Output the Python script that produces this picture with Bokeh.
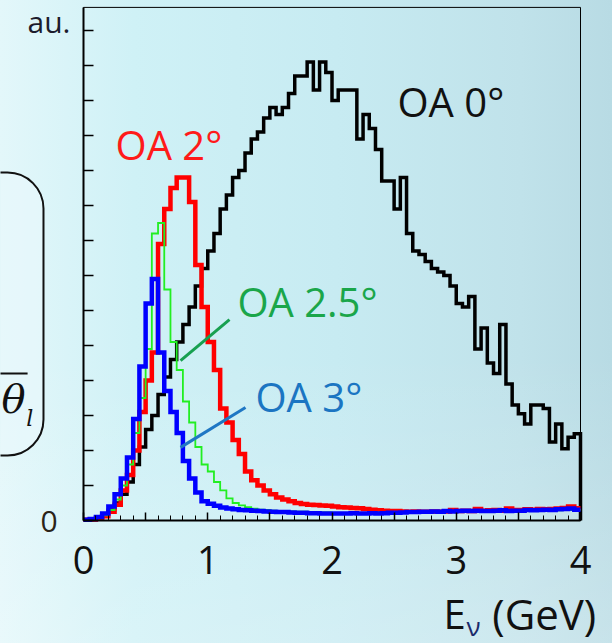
from bokeh.plotting import figure
from bokeh.models import FixedTicker, Label, BoxAnnotation, Range1d
from bokeh.embed import file_html
from bokeh.resources import INLINE

# ---- data (histograms, 0.05 GeV bins from 0 to 4 GeV, arbitrary units) ----
bin_width = 0.05
n_bins = 80
edges = [round(i * bin_width, 3) for i in range(n_bins + 1)]

oa0 = [0.02, 0.03, 0.07, 0.15, 0.3, 0.5, 0.75, 1.1, 1.6, 2.1,
       2.6, 3.0, 3.6, 4.1, 4.6, 5.1, 5.6, 6.1, 6.7, 7.2,
       7.7, 8.2, 8.9, 9.3, 9.8, 10.0, 10.5, 10.9, 11.1, 11.5,
       11.8, 11.6, 11.8, 12.2, 12.7, 12.7, 13.1, 12.3, 13.1, 12.8,
       12.0, 12.3, 12.3, 12.3, 10.9, 11.6, 11.2, 10.6, 9.7, 9.7,
       8.9, 9.8, 8.2, 7.7, 7.6, 7.4, 7.2, 7.1, 7.0, 6.7,
       6.2, 6.1, 6.4, 4.9, 5.5, 4.5, 4.2, 5.6, 3.9, 3.3,
       3.05, 2.76, 3.3, 3.3, 3.2, 2.24, 2.76, 2.05, 2.38, 2.48]

oa2 = [0.02, 0.03, 0.05, 0.12, 0.25, 0.45, 0.86, 1.3, 2.0, 3.1,
       4.0, 4.8, 7.9, 8.9, 9.5, 9.8, 9.8, 9.1, 7.3, 6.1,
       5.1, 4.3, 3.2, 2.8, 2.3, 1.9, 1.4, 1.15, 1.0, 0.86,
       0.75, 0.66, 0.6, 0.55, 0.5, 0.47, 0.45, 0.44, 0.43, 0.42,
       0.4, 0.38, 0.37, 0.36, 0.35, 0.33, 0.31, 0.29, 0.28, 0.27,
       0.27, 0.26, 0.25, 0.26, 0.25, 0.25, 0.26, 0.25, 0.26, 0.3,
       0.27, 0.28, 0.27, 0.33, 0.28, 0.29, 0.3, 0.28, 0.34, 0.3,
       0.3, 0.32, 0.31, 0.33, 0.32, 0.33, 0.34, 0.36, 0.4, 0.35]

oa25 = [0.02, 0.03, 0.07, 0.15, 0.3, 0.6, 1.0, 1.6, 2.5, 3.5,
        4.9, 8.2, 8.5, 6.6, 5.1, 4.3, 3.4, 2.8, 2.1, 1.6,
        1.4, 1.1, 0.86, 0.63, 0.5, 0.43, 0.38, 0.34, 0.31, 0.3,
        0.28, 0.27, 0.26, 0.26, 0.25, 0.25, 0.24, 0.24, 0.23, 0.23,
        0.22, 0.22, 0.22, 0.22, 0.22, 0.22, 0.22, 0.23, 0.23, 0.23,
        0.23, 0.24, 0.24, 0.24, 0.24, 0.25, 0.25, 0.25, 0.25, 0.26,
        0.26, 0.26, 0.26, 0.27, 0.27, 0.27, 0.27, 0.27, 0.28, 0.28,
        0.28, 0.28, 0.28, 0.29, 0.29, 0.29, 0.29, 0.3, 0.3, 0.3]

oa3 = [0.02, 0.04, 0.1, 0.2, 0.4, 0.75, 1.2, 1.8, 2.9, 4.4,
       6.2, 6.9, 4.8, 3.7, 3.1, 2.5, 1.7, 1.2, 0.8, 0.55,
       0.48, 0.42, 0.37, 0.34, 0.32, 0.3, 0.29, 0.28, 0.27, 0.26,
       0.25, 0.24, 0.24, 0.23, 0.22, 0.22, 0.21, 0.21, 0.2, 0.2,
       0.2, 0.2, 0.2, 0.21, 0.2, 0.2, 0.21, 0.2, 0.21, 0.22,
       0.22, 0.23, 0.24, 0.24, 0.25, 0.25, 0.26, 0.25, 0.27, 0.26,
       0.27, 0.28, 0.27, 0.28, 0.27, 0.27, 0.28, 0.29, 0.27, 0.28,
       0.28, 0.3, 0.29, 0.3, 0.31, 0.3, 0.32, 0.33, 0.34, 0.31]

x_tick_labels = ["0", "1", "2", "3", "4"]
series_labels = ["OA 0°", "OA 2°", "OA 2.5°", "OA 3°"]
x_max = 4.0
y_max = 14.66

# pointer lines (label -> curve): [x0, y0, x1, y1]
ptr_25 = [0.781, 4.57, 1.175, 5.74]
ptr_3 = [0.781, 2.09, 1.304, 3.23]

FONT = "Open Sans"
PX_X = 124.25   # pixels per GeV
PX_Y = 35.0     # pixels per unit

# the frame fills the whole canvas; axes are drawn at fixed locations
p = figure(width=612, height=643, output_backend="svg", toolbar_location=None,
           x_range=Range1d(-83 / PX_X, 529 / PX_X),
           y_range=Range1d(-123 / PX_Y, 520 / PX_Y),
           min_border=0, min_border_left=0, min_border_right=0,
           min_border_top=0, min_border_bottom=0)
p.background_fill_alpha = 0
p.border_fill_alpha = 0
p.styles = {"background-image":
            "linear-gradient(180deg, rgba(255,255,255,0) 55%, rgba(255,255,255,0.22) 100%),"
            "linear-gradient(90deg, #e3f7fa 0%, #cff1f6 22%, #c7ebf2 55%, #c0e2ea 85%, #b8dbe4 100%)"}
p.grid.visible = False
p.outline_line_color = None

# x axis
p.xaxis.fixed_location = 0
p.xaxis.bounds = (0, x_max)
p.xaxis.ticker = FixedTicker(ticks=[i * 0.5 for i in range(9)],
                             minor_ticks=[round(i * 0.1, 2) for i in range(41)])
p.xaxis.major_label_overrides = {i * 0.5: (x_tick_labels[i // 2] if i % 2 == 0 else "")
                                 for i in range(9)}
p.xaxis.axis_line_width = 2
p.xaxis.major_tick_in = 8
p.xaxis.major_tick_out = 0
p.xaxis.minor_tick_in = 5
p.xaxis.minor_tick_out = 0
p.xaxis.major_tick_line_width = 1.5
p.xaxis.major_label_text_font = FONT
p.xaxis.major_label_text_font_size = "38px"
p.xaxis.major_label_text_color = "#111111"
p.xaxis.major_label_standoff = 25

# y axis
p.yaxis.fixed_location = 0
p.yaxis.bounds = (0, y_max)
p.yaxis.ticker = FixedTicker(ticks=list(range(15)), minor_ticks=[])
p.yaxis.major_label_overrides = {i: "" for i in range(15)}
p.yaxis.axis_line_width = 2
p.yaxis.major_tick_in = 10
p.yaxis.major_tick_out = 0
p.yaxis.major_tick_line_width = 1.5

# thin frame (top and right sides)
p.add_layout(BoxAnnotation(left=0, right=x_max, bottom=0, top=y_max, fill_alpha=0,
                           line_color="#000000", line_alpha=1, line_width=1,
                           level="underlay"))


def step_points(vals, drop=False):
    xs = list(edges)
    ys = list(vals) + [vals[-1]]
    if drop:
        xs = xs + [edges[-1]]
        ys = ys + [0]
    return xs, ys


bx, by = step_points(oa0, drop=True)
p.step(bx, by, mode="after", line_color="#000000", line_width=3.5, line_join="miter")
rx, ry = step_points(oa2)
p.step(rx, ry, mode="after", line_color="#ff0000", line_width=4.5, line_join="miter")
gx, gy = step_points(oa25)
p.step(gx, gy, mode="after", line_color="#22ee22", line_width=1.8, line_join="miter")
ux, uy = step_points(oa3)
p.step(ux, uy, mode="after", line_color="#0000ff", line_width=4.5, line_join="miter")

p.segment(x0=[ptr_25[0]], y0=[ptr_25[1]], x1=[ptr_25[2]], y1=[ptr_25[3]],
          line_color="#17a050", line_width=3)
p.segment(x0=[ptr_3[0]], y0=[ptr_3[1]], x1=[ptr_3[2]], y1=[ptr_3[3]],
          line_color="#1f77c4", line_width=3)

# series labels
for txt, x, y, col in [(series_labels[0], 2.527, 11.97, "#111111"),
                       (series_labels[1], 0.258, 10.74, "#ff1a1a"),
                       (series_labels[2], 1.239, 6.26, "#1aa64a"),
                       (series_labels[3], 1.384, 3.54, "#1b75c2")]:
    p.add_layout(Label(x=x, y=y, text=txt, text_font=FONT, text_font_size="40px",
                       text_color=col, text_baseline="alphabetic", text_align="left"))

# y-axis end labels
p.add_layout(Label(x=-0.105, y=14.25, text="au.", text_font=FONT, text_font_size="30px",
                   text_color="#1c1c2c", text_align="right", text_baseline="alphabetic"))
p.add_layout(Label(x=-0.209, y=-0.03, text="0", text_font=FONT, text_font_size="30px",
                   text_color="#2b2418", text_align="right", text_baseline="alphabetic"))

# x-axis title  E_ν (GeV)
p.add_layout(Label(x=2.897, y=-2.66, text="E", text_font=FONT, text_font_size="40px",
                   text_color="#111111", text_baseline="alphabetic"))
p.add_layout(Label(x=3.083, y=-3.0, text="ν", text_font=FONT, text_font_size="26px",
                   text_color="#1b2a6b", text_baseline="alphabetic"))
p.add_layout(Label(x=3.29, y=-2.66, text="(GeV)", text_font=FONT, text_font_size="42px",
                   text_color="#111111", text_baseline="alphabetic"))

# fragment of the neighbouring slide box on the left
p.add_layout(BoxAnnotation(left=-1.2, right=-0.322, top=9.94, bottom=1.857,
                           fill_color="#eaf9fb", fill_alpha=0.6,
                           line_color="#111111", line_alpha=1, line_width=2,
                           border_radius=36, level="underlay"))
p.add_layout(BoxAnnotation(left=-0.72, right=-0.45, top=4.23, bottom=4.17,
                           fill_color="#111111", fill_alpha=1, line_alpha=0))
p.add_layout(Label(x=-0.66, y=3.47, text="θ", text_font="DejaVu Serif",
                   text_font_style="italic", text_font_size="40px", text_color="#111111",
                   text_baseline="alphabetic"))
p.add_layout(Label(x=-0.46, y=2.92, text="l", text_font="DejaVu Serif",
                   text_font_style="italic", text_font_size="22px", text_color="#111111",
                   text_baseline="alphabetic"))

open("out.html", "w").write(file_html(p, INLINE))
